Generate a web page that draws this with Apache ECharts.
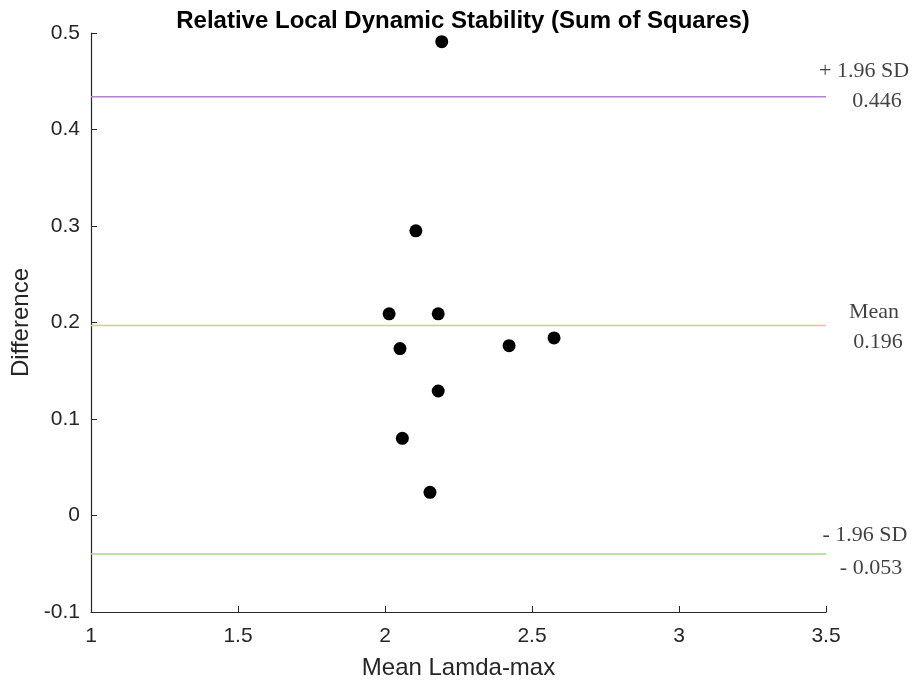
<!DOCTYPE html>
<html><head><meta charset="utf-8">
<script src="https://cdn.jsdelivr.net/npm/echarts@6/dist/echarts.min.js"></script>
<style>html,body{margin:0;padding:0;background:#fff}#c{width:912px;height:685px}</style>
</head><body><div id="c"></div>
<script>
var meanX = [2.014, 2.181, 2.051, 2.422, 2.575, 2.181, 2.059, 2.153, 2.193, 2.105];
var diffY = [0.209, 0.209, 0.173, 0.176, 0.184, 0.129, 0.080, 0.024, 0.491, 0.295];
var limitNames = ['+ 1.96 SD', 'Mean', '- 1.96 SD'];
var limitValues = ['0.446', '0.196', '- 0.053'];
var limitLineY = [0.434, 0.197, -0.040];
var limitColors = ['#b383c9', '#f4c46c', '#a9d68a'];
var nameOffsets = [[38, -25], [48, -13], [39, -19]];
var valueOffsets = [[51, 5], [52, 17], [45, 14]];
var xTicks = [1, 1.5, 2, 2.5, 3, 3.5];
var yTicks = [-0.1, 0, 0.1, 0.2, 0.3, 0.4, 0.5];

var chart = echarts.init(document.getElementById('c'));
var series = [];
var serifLabel = { fontFamily: 'Liberation Serif', fontSize: 22, color: '#111', align: 'center', verticalAlign: 'middle' };
var xEnd = xTicks[xTicks.length - 1];
for (var i = 0; i < limitLineY.length; i++) {
  series.push({
    type: 'line', silent: true, symbol: 'none', z: 1,
    lineStyle: { color: limitColors[i], width: 1.5 },
    data: [[xTicks[0], limitLineY[i]], [xEnd, limitLineY[i]]]
  });
  series.push({
    type: 'scatter', silent: true, symbolSize: 0, z: 1,
    data: [
      { value: [xEnd, limitLineY[i]], label: Object.assign({ show: true, position: nameOffsets[i], formatter: limitNames[i] }, serifLabel) },
      { value: [xEnd, limitLineY[i]], label: Object.assign({ show: true, position: valueOffsets[i], formatter: limitValues[i] }, serifLabel) }
    ]
  });
}
series.push({
  type: 'scatter', z: 3, symbolSize: 13,
  itemStyle: { color: '#000', opacity: 1 },
  data: meanX.map(function (x, k) { return [x, diffY[k]]; })
});

chart.setOption({
  animation: false,
  backgroundColor: '#fff',
  title: {
    text: 'Relative Local Dynamic Stability (Sum of Squares)',
    left: 458, top: 4, textAlign: 'center',
    textStyle: { fontFamily: 'Liberation Sans', fontWeight: 'bold', fontSize: 24, color: '#000' }
  },
  grid: { left: 91, right: 86, top: 33, bottom: 71 },
  xAxis: {
    type: 'value', min: 1, max: 3.5, interval: 0.5,
    name: 'Mean Lamda-max', nameLocation: 'middle', nameGap: 44,
    nameTextStyle: { fontFamily: 'Liberation Sans', fontSize: 24, color: '#262626' },
    axisLine: { onZero: false, lineStyle: { color: '#262626', width: 1.2 } },
    axisTick: { inside: true, length: 6, lineStyle: { color: '#262626' } },
    axisLabel: { fontFamily: 'Liberation Sans', fontSize: 21, color: '#262626', margin: 14 },
    splitLine: { show: false }
  },
  yAxis: {
    type: 'value', min: -0.1, max: 0.5, interval: 0.1,
    name: 'Difference', nameLocation: 'middle', nameGap: 57,
    nameTextStyle: { fontFamily: 'Liberation Sans', fontSize: 24, color: '#262626' },
    axisLine: { show: true, onZero: false, lineStyle: { color: '#262626', width: 1.2 } },
    axisTick: { show: true, inside: true, length: 6, lineStyle: { color: '#262626' } },
    axisLabel: { fontFamily: 'Liberation Sans', fontSize: 21, color: '#262626', margin: 11,
      formatter: function (v) { return (Math.round(v * 10) / 10).toString(); } },
    splitLine: { show: false }
  },
  series: series
});
</script></body></html>
